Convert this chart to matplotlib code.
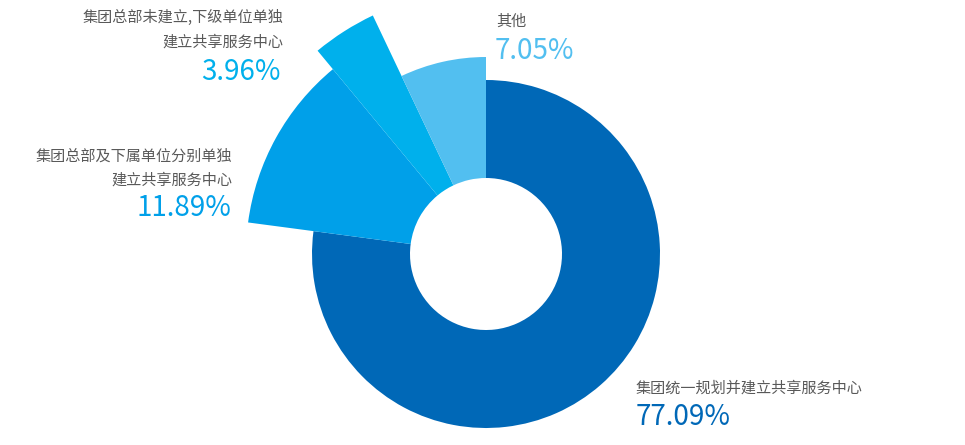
import matplotlib.pyplot as plt
from matplotlib.patches import Wedge

plt.rcParams['font.family'] = ['Noto Sans CJK SC', 'DejaVu Sans']

# 数据
categories = ["集团统一规划并建立共享服务中心",
              "集团总部及下属单位分别单独\n建立共享服务中心",
              "集团总部未建立,下级单位单独\n建立共享服务中心",
              "其他"]
values = [77.09, 11.89, 3.96, 7.05]

# 样式
colors = ["#0068B7", "#00A0E9", "#00B0EC", "#52BFF0"]
outer_r = [174, 240, 264, 197]
inner_r = 76
center = (486, 191)

fig = plt.figure(figsize=(9.65, 4.45), dpi=100)
ax = fig.add_axes([0, 0, 1, 1])
ax.set_xlim(0, 965)
ax.set_ylim(0, 445)
ax.set_aspect('equal')
ax.axis('off')

total = sum(values)
start = 90.0
for v, c, r in zip(values, colors, outer_r):
    span = v / total * 360
    w = Wedge(center, r, start - span, start, width=r - inner_r,
              facecolor=c, edgecolor='none', linewidth=0)
    ax.add_patch(w)
    start -= span

gray = "#595959"
# 标签 (x, y, 对齐)
label_pos = [(636, 445 - 388, 'left'),
             (232, 445 - 168, 'right'),
             (283, 445 - 30, 'right'),
             (496, 445 - 21, 'left')]
pct_pos = [(636, 445 - 417),
           (231, 445 - 208),
           (281, 445 - 72),
           (495, 445 - 51)]

for cat, v, c, (lx, ly, ha), (px, py) in zip(categories, values, colors, label_pos, pct_pos):
    ax.text(lx, ly, cat, ha=ha, va='center', fontsize=10.9, color=gray,
            linespacing=1.55, multialignment=ha)
    ax.text(px, py, f"{v:.2f}%", ha=ha, va='center', fontsize=20,
            color=c, fontweight='light')

fig.savefig("out.png", dpi=100)
